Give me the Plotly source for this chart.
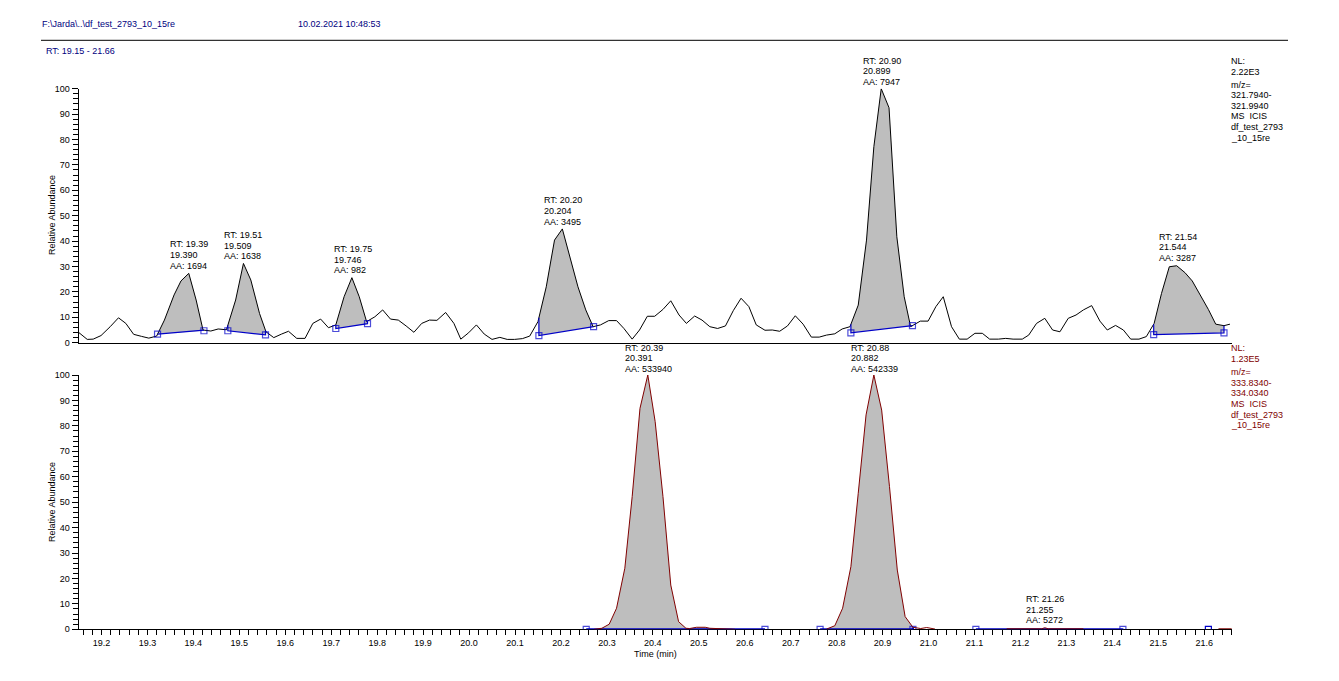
import numpy as np
import plotly.graph_objects as go

# ---- upper trace (m/z 321.794-321.994) ----
top_time = [19.150,19.169,19.182,19.199,19.219,19.237,19.253,19.270,19.287,19.303,19.320,19.337,19.358,19.373,19.390,19.406,19.421,19.438,19.454,19.472,
 19.492,19.509,19.525,19.544,19.558,19.575,19.592,19.607,19.625,19.643,19.660,19.677,19.694,19.710,19.728,19.745,19.761,19.777,19.795,19.812,
 19.829,19.846,19.863,19.880,19.897,19.914,19.930,19.949,19.967,19.982,19.999,20.016,20.033,20.050,20.067,20.083,20.099,20.116,20.132,20.150,
 20.168,20.186,20.203,20.220,20.237,20.254,20.270,20.286,20.304,20.321,20.337,20.355,20.371,20.388,20.404,20.422,20.439,20.457,20.473,20.491,
 20.507,20.524,20.541,20.558,20.575,20.592,20.609,20.625,20.644,20.660,20.676,20.693,20.710,20.727,20.745,20.762,20.778,20.796,20.812,20.829,
 20.847,20.865,20.881,20.897,20.914,20.931,20.947,20.961,20.982,20.999,21.016,21.032,21.050,21.067,21.084,21.101,21.117,21.133,21.152,21.168,
 21.184,21.204,21.218,21.235,21.253,21.270,21.286,21.304,21.321,21.337,21.355,21.373,21.389,21.407,21.424,21.440,21.458,21.474,21.491,21.507,
 21.524,21.540,21.558,21.574,21.590,21.609,21.625,21.643,21.656]
top_abundance = [4.1,1.3,1.4,2.8,6.3,9.8,7.6,3.3,2.5,1.8,2.6,8.9,18.8,24.3,27.3,16.8,5.0,4.6,5.4,5.1,
 16.8,31.2,24.7,11.5,4.3,2.0,3.4,4.5,1.7,1.7,7.6,9.3,5.9,7.0,18.1,25.6,18.1,8.3,10.2,12.9,
 9.3,8.9,6.6,4.1,7.6,8.9,8.8,11.9,7.6,1.4,3.9,7.0,3.4,1.3,2.1,1.3,1.3,1.6,2.6,8.3,
 22.0,40.4,44.8,33.9,22.0,12.9,6.3,7.0,8.7,8.7,5.6,1.4,5.0,10.4,10.4,13.1,16.5,10.9,7.6,10.5,
 8.9,6.3,5.6,6.6,12.6,17.5,14.2,7.0,4.9,5.0,4.5,6.6,10.6,7.3,2.2,2.2,3.0,3.5,5.4,6.3,
 14.8,40.4,77.2,100.0,92.5,41.7,18.1,6.3,8.5,8.5,14.2,18.1,6.3,1.4,1.4,3.7,3.7,1.4,1.4,1.7,
 1.4,1.4,3.0,7.6,9.6,5.0,4.3,9.6,10.9,12.9,14.6,8.5,5.0,6.8,5.0,1.4,1.4,2.4,7.6,19.4,
 29.9,30.3,27.6,24.3,19.4,13.1,7.3,6.7,7.3]
# integrated peaks: (start time, start level, end time, end level)
top_peak_t0 = [19.322,19.475,19.710,20.152,20.831,21.490]
top_peak_y0 = [3.4,4.7,5.6,2.8,3.9,3.2]
top_peak_t1 = [19.423,19.557,19.779,20.271,20.965,21.643]
top_peak_y1 = [4.7,3.1,7.5,6.3,6.7,3.9]
top_label_x = [19.349,19.467,19.705,20.163,20.858,21.502]
top_label_y = [28.4,32.0,26.5,45.7,100.7,31.4]
top_labels = [["RT: 19.39","19.390","AA: 1694"],["RT: 19.51","19.509","AA: 1638"],["RT: 19.75","19.746","AA: 982"],
              ["RT: 20.20","20.204","AA: 3495"],["RT: 20.90","20.899","AA: 7947"],["RT: 21.54","21.544","AA: 3287"]]

# ---- lower trace (m/z 333.834-334.034) ----
low_time = [20.272,20.289,20.305,20.321,20.339,20.355,20.372,20.389,20.405,20.422,20.439,20.456,20.472,20.480,20.495,20.514,20.524,20.572,20.579,None,
 20.778,20.796,20.813,20.831,20.847,20.864,20.881,20.898,20.915,20.932,20.949,20.966,20.983,20.996,21.014,None,
 21.170,21.246,21.253,21.261,21.337,None,21.631,21.660]
low_abundance = [0.0,0.4,2.0,8.3,24.0,52.2,86.9,100.0,81.7,52.2,17.4,3.0,0.4,0.3,0.8,0.8,0.4,0.3,0.0,None,
 0.1,1.4,8.3,24.6,53.5,84.3,100.0,86.2,56.1,23.3,5.0,0.8,0.3,0.7,0.1,None,
 0.2,0.2,0.6,0.2,0.2,None,0.2,0.2]
low_peak_t0 = [20.255,20.764,21.103]
low_peak_y0 = [0.0,0.0,0.0]
low_peak_t1 = [20.644,20.966,21.423]
low_peak_y1 = [0.0,0.0,0.0]
low_extra_marker_t = [21.609]
low_extra_marker_y = [0.0]
low_label_x = [20.339,20.831,21.212]
low_label_y = [100.4,100.4,1.5]
low_labels = [["RT: 20.39","20.391","AA: 533940"],["RT: 20.88","20.882","AA: 542339"],["RT: 21.26","21.255","AA: 5272"]]

# ---- side notes ----
top_note = ["NL:","2.22E3","m/z=","321.7940-","321.9940","MS  ICIS","df_test_2793","_10_15re"]
low_note = ["NL:","1.23E5","m/z=","333.8340-","334.0340","MS  ICIS","df_test_2793","_10_15re"]
note_offsets = [0,11,24,34.3,45,55.5,66.3,77]

# ---- axes ----
x_tick_vals = [19.2,19.3,19.4,19.5,19.6,19.7,19.8,19.9,20.0,20.1,20.2,20.3,20.4,20.5,20.6,20.7,20.8,20.9,21.0,21.1,21.2,21.3,21.4,21.5,21.6]
x_tick_text = ["19.2","19.3","19.4","19.5","19.6","19.7","19.8","19.9","20.0","20.1","20.2","20.3","20.4","20.5","20.6","20.7","20.8","20.9","21.0","21.1","21.2","21.3","21.4","21.5","21.6"]
y_tick_vals = [0,10,20,30,40,50,60,70,80,90,100]

W, H = 1339, 681
FONT = "Liberation Sans"
FS = 9
NAVY = "#000080"
DRED = "#800000"
BLUE = "#0000C8"
GREY = "#BEBEBE"
LINE_STEP = 10.7

def px(v): return v / W
def py(v): return 1 - v / H

fig = go.Figure()

def add_peaks(t, a, t0s, y0s, t1s, y1s, xa, ya):
    pts = [(p, q) for p, q in zip(t, a) if p is not None]
    tt = np.array([p[0] for p in pts]); aa = np.array([p[1] for p in pts])
    for s, ys, e, ye in zip(t0s, y0s, t1s, y1s):
        mask = (tt > s) & (tt < e)
        xs = [s] + tt[mask].tolist() + [e]
        yy = [max(float(np.interp(s, tt, aa)), ys)] + aa[mask].tolist() + [max(float(np.interp(e, tt, aa)), ye)]
        fig.add_trace(go.Scatter(x=[s] + xs + [e, s], y=[ys] + yy + [ye, ys], xaxis=xa, yaxis=ya, mode="lines",
                                 fill="toself", fillcolor=GREY, line=dict(width=0), hoverinfo="skip"))

def add_baselines(t, a, t0s, y0s, t1s, y1s, xa, ya, width):
    pts = [(p, q) for p, q in zip(t, a) if p is not None]
    tt = np.array([p[0] for p in pts]); aa = np.array([p[1] for p in pts])
    for s, ys, e, ye in zip(t0s, y0s, t1s, y1s):
        fig.add_trace(go.Scatter(x=[s, s, e, e], y=[float(np.interp(s, tt, aa)), ys, ye, float(np.interp(e, tt, aa))],
                                 xaxis=xa, yaxis=ya, mode="lines+markers", line=dict(color=BLUE, width=width),
                                 marker=dict(symbol="square-open", size=[0, 6, 6, 0], color=BLUE, line=dict(width=1.2, color=BLUE)),
                                 hoverinfo="skip"))

add_peaks(top_time, top_abundance, top_peak_t0, top_peak_y0, top_peak_t1, top_peak_y1, "x", "y")
add_peaks(low_time, low_abundance, low_peak_t0, low_peak_y0, low_peak_t1, low_peak_y1, "x2", "y2")
add_baselines(low_time, low_abundance, low_peak_t0, low_peak_y0, low_peak_t1, low_peak_y1, "x2", "y2", 2.2)
fig.add_trace(go.Scatter(x=top_time, y=top_abundance, xaxis="x", yaxis="y", mode="lines", line=dict(color="black", width=1), name="m/z 321.794-321.994"))
fig.add_trace(go.Scatter(x=low_time, y=low_abundance, xaxis="x2", yaxis="y2", mode="lines", connectgaps=False,
                         line=dict(color=DRED, width=1), name="m/z 333.834-334.034"))
add_baselines(top_time, top_abundance, top_peak_t0, top_peak_y0, top_peak_t1, top_peak_y1, "x", "y", 1.2)
fig.add_trace(go.Scatter(x=low_extra_marker_t, y=low_extra_marker_y, xaxis="x2", yaxis="y2", mode="markers",
                         marker=dict(symbol="square-open", size=6, color=BLUE, line=dict(width=1.2, color=BLUE)), hoverinfo="skip"))

annotations = []
def label(x, y, text, xref, yref, color="black", xanchor="left", yanchor="bottom", angle=0, yshift=0):
    annotations.append(dict(x=x, y=y, text=text, xref=xref, yref=yref, showarrow=False, xanchor=xanchor, yanchor=yanchor,
                            align="left" if xanchor == "left" else "center", borderpad=0, borderwidth=0, textangle=angle,
                            yshift=yshift, font=dict(family=FONT, size=FS, color=color)))

def peak_label(x, y, lines, xref, yref, per_unit):
    lift = max(y - 100, 0) * per_unit
    for i, s in enumerate(lines):
        label(x, min(y, 100), s, xref, yref, yshift=lift + (len(lines) - 1 - i) * LINE_STEP)

for x, y, s in zip(top_label_x, top_label_y, top_labels):
    peak_label(x, y, s, "x", "y", 2.54)
for x, y, s in zip(low_label_x, low_label_y, low_labels):
    peak_label(x, y, s, "x2", "y2", 2.54)

label(px(42), py(23.5), "F:\\Jarda\\..\\df_test_2793_10_15re", "paper", "paper", NAVY, yanchor="middle")
label(px(298), py(23.5), "10.02.2021 10:48:53", "paper", "paper", NAVY, yanchor="middle")
label(px(46), py(50.5), "RT: 19.15 - 21.66", "paper", "paper", NAVY, yanchor="middle")
for s, d in zip(top_note, note_offsets):
    label(px(1231), py(60.7 + d), s, "paper", "paper", yanchor="middle")
for s, d in zip(low_note, note_offsets):
    label(px(1231), py(348.3 + d), s, "paper", "paper", DRED, yanchor="middle")
label(px(52), py(215), "Relative Abundance", "paper", "paper", xanchor="center", yanchor="middle", angle=-90)
label(px(52), py(502), "Relative Abundance", "paper", "paper", xanchor="center", yanchor="middle", angle=-90)
label(px(655.5), py(654), "Time (min)", "paper", "paper", xanchor="center", yanchor="middle")

yaxis_common = dict(range=[0, 100], tickvals=y_tick_vals, ticks="outside", ticklen=6, tickwidth=1, tickcolor="black",
                    showline=True, linecolor="black", linewidth=1, showgrid=False, zeroline=False,
                    tickfont=dict(family=FONT, size=FS, color="black"),
                    minor=dict(dtick=2, tick0=0, ticks="outside", ticklen=5, tickwidth=1, tickcolor="black", showgrid=False))
xdomain = [px(78.5), px(1231.8)]

fig.update_layout(
    width=W, height=H, margin=dict(l=0, r=0, t=0, b=0, pad=0, autoexpand=False), autosize=False,
    paper_bgcolor="white", plot_bgcolor="white", showlegend=False, annotations=annotations,
    shapes=[dict(type="line", xref="paper", yref="paper", x0=px(41), x1=px(1288), y0=py(40.3), y1=py(40.3), line=dict(color="black", width=1))],
    xaxis=dict(domain=xdomain, range=[19.15, 21.66], anchor="y", showticklabels=False, ticks="", showline=True, linecolor="black",
               linewidth=1, showgrid=False, zeroline=False),
    yaxis=dict(domain=[py(342.7), py(88.7)], anchor="x", **yaxis_common),
    xaxis2=dict(domain=xdomain, range=[19.15, 21.66], anchor="y2", tickvals=x_tick_vals, ticktext=x_tick_text, ticks="outside", ticklen=5,
                tickwidth=1, tickcolor="black", showline=True, linecolor="black", linewidth=1, showgrid=False, zeroline=False, layer="below traces",
                tickfont=dict(family=FONT, size=FS, color="black"),
                minor=dict(dtick=0.02, tick0=19.2, ticks="outside", ticklen=5, tickwidth=1, tickcolor="black", showgrid=False)),
    yaxis2=dict(domain=[py(629.3), py(375)], anchor="x2", **yaxis_common),
)

fig.write_html("out.html", config={"displayModeBar": False},
               post_script="document.body.style.margin='0';document.body.style.overflow='hidden';")
